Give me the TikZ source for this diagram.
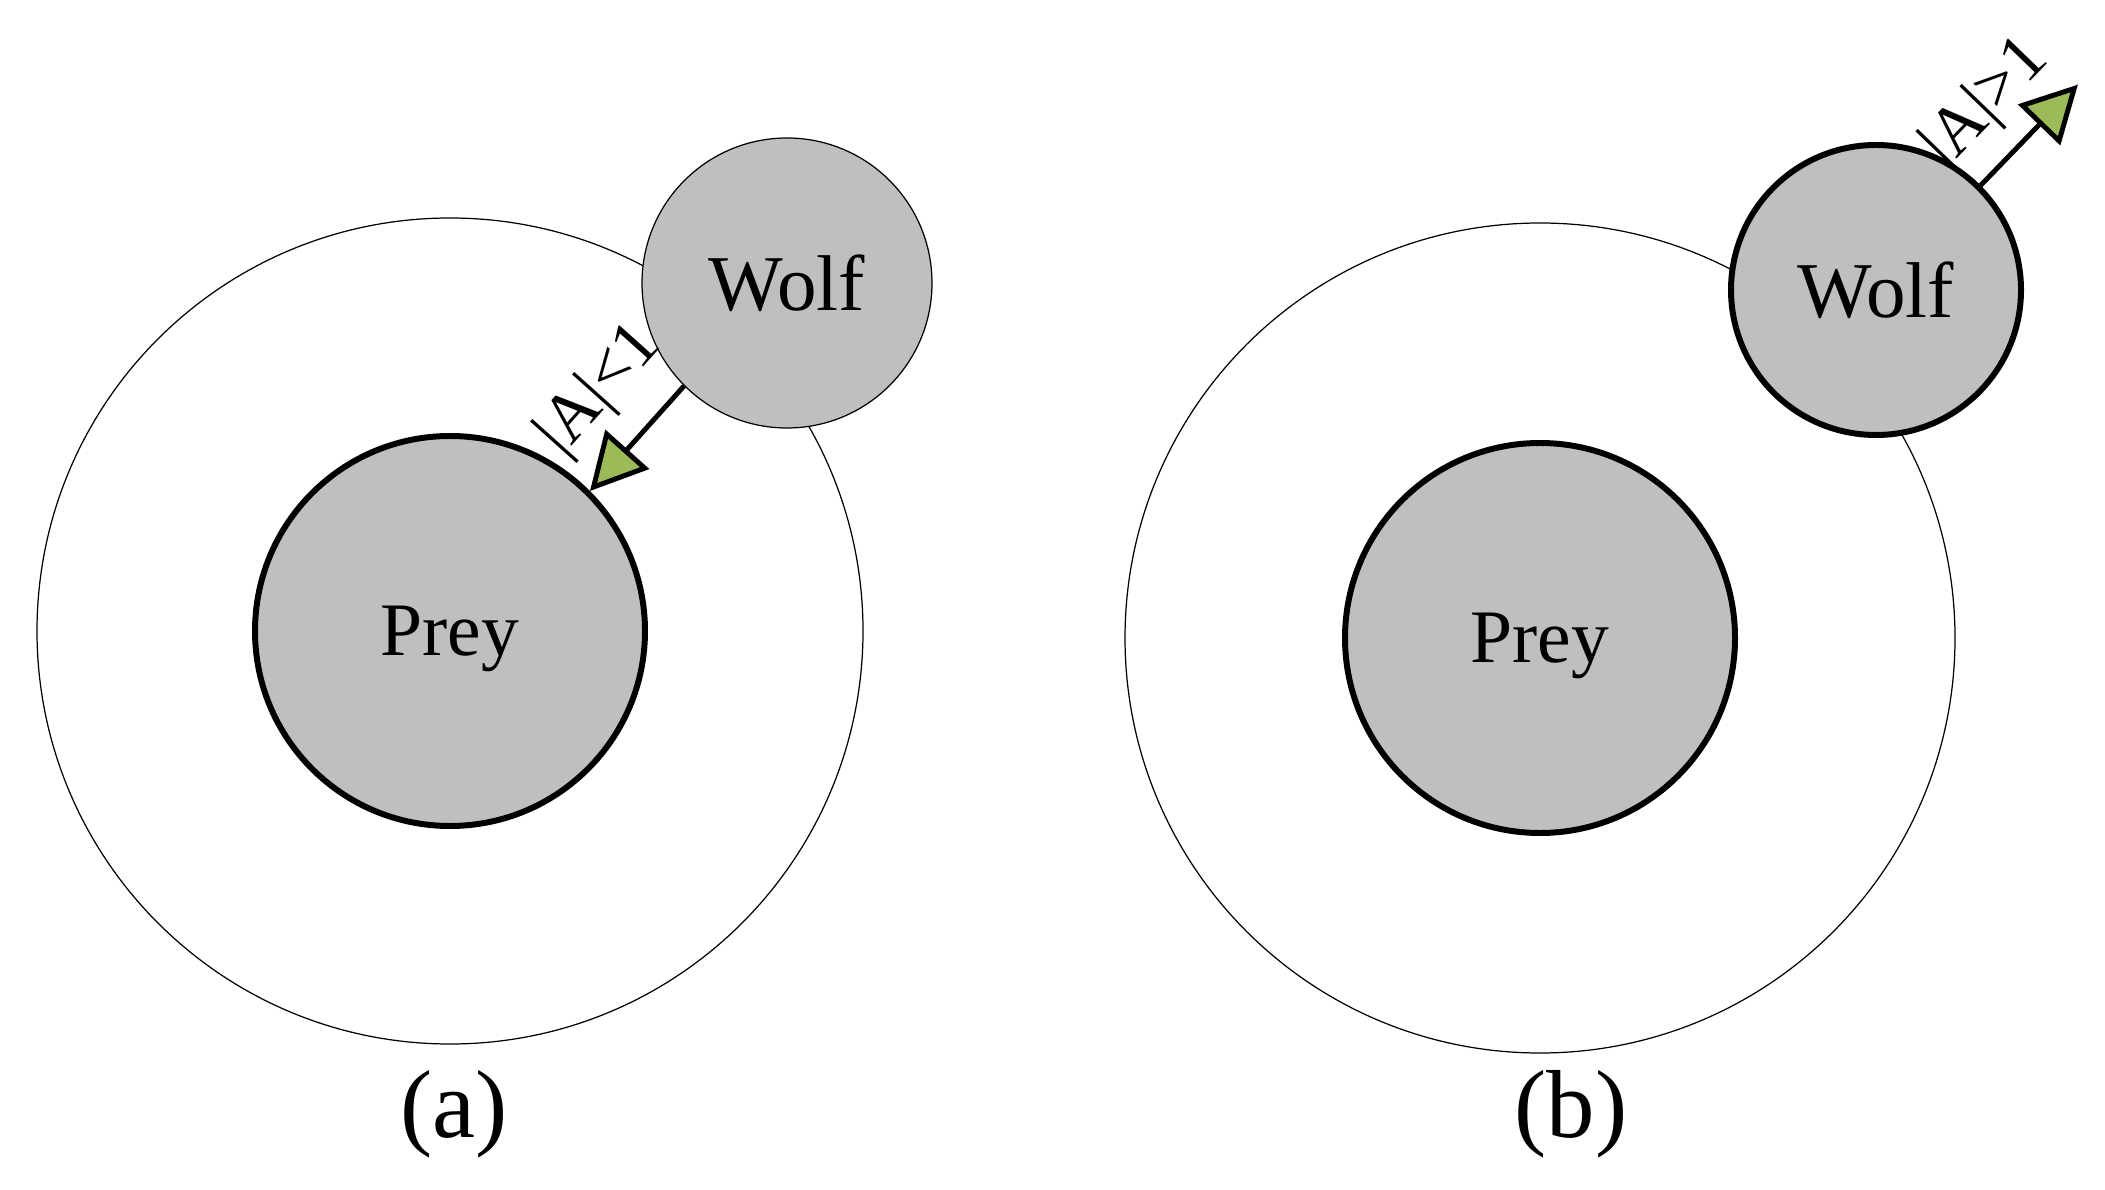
\documentclass[tikz,border=0pt]{standalone}
\usepackage{fontspec}
\setmainfont{Liberation Serif}
\usepackage{xcolor}
\usetikzlibrary{arrows.meta,positioning}
\definecolor{preygray}{RGB}{191,191,191}
\definecolor{tipgreen}{RGB}{155,187,89}

\begin{document}
\begin{tikzpicture}[
    huntzone/.style={circle, draw=black, line width=0.35pt, inner sep=0pt},
    prey/.style={circle, draw=black, fill=preygray, line width=1.7pt, minimum size=3.9cm,
                 inner sep=0pt, text depth=0pt, font=\fontsize{21.5}{26}\selectfont},
    wolf/.style={circle, draw=black, fill=preygray, minimum size=2.9cm,
                 inner sep=0pt, font=\fontsize{22.5}{27}\selectfont},
    move/.style={line width=1.4pt, -{Triangle[length=0.56cm, width=0.58cm, fill=tipgreen]}},
    cond/.style={font=\fontsize{19.5}{19.5}\selectfont, sloped},
    caption/.style={font=\fontsize{27.5}{33}\selectfont},
  ]

\useasboundingbox (0,0) rectangle (21.05,-11.90);

% (a) wolf closes in
\node[huntzone, minimum size=8.26cm] (zoneA) at (4.50,-6.31) {};
\node[prey] (preyA) at (4.50,-6.31) {Prey};
\node[wolf, line width=0.35pt] (wolfA) at (7.87,-2.83) {Wolf};
\draw[move] (wolfA.225) -- (preyA.45) node[cond, pos=0.42, above=4pt] (condA) {|A|<1};
\node[caption] (capA) at (4.54,-11.14) {(a)};

% (b) wolf moves away
\node[huntzone, minimum size=8.30cm] (zoneB) at (15.40,-6.38) {};
\node[prey] (preyB) at (15.40,-6.38) {Prey};
\node[wolf, line width=1.7pt] (wolfB) at (18.76,-2.90) {Wolf};
\path (wolfB.45) ++(46:1.4) coordinate (tipB);
\draw[move] (wolfB.45) -- (tipB) node[cond, pos=0.45, above=2pt] (condB) {|A|>1};
\node[caption] (capB) at (15.71,-11.14) {(b)};

\end{tikzpicture}
\end{document}
